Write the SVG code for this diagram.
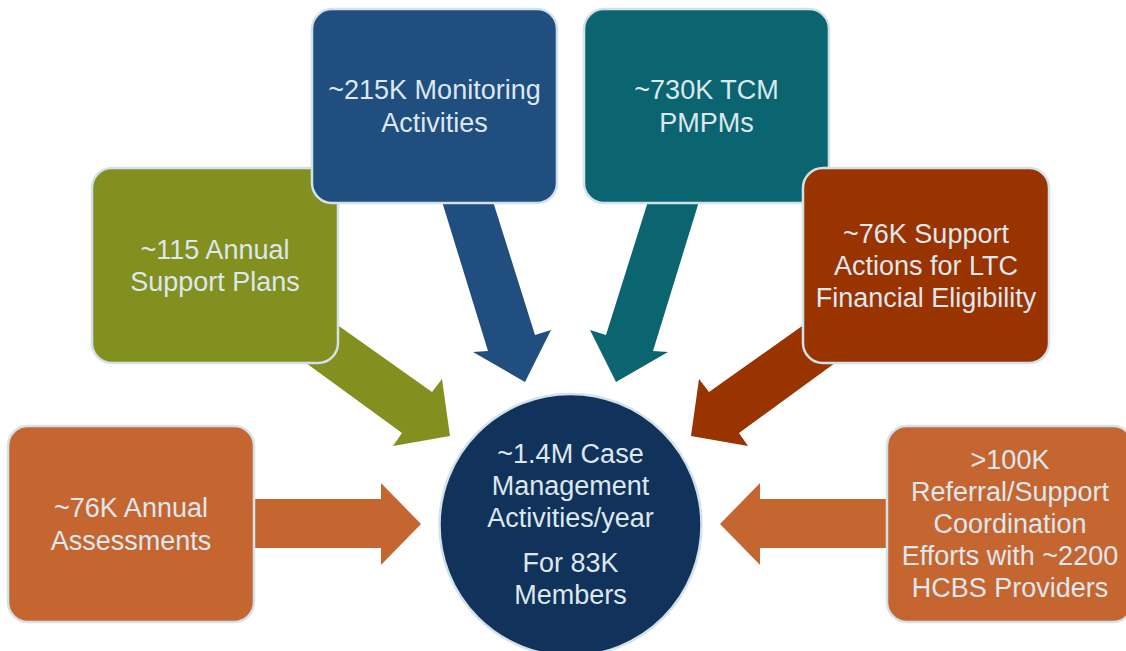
<svg xmlns="http://www.w3.org/2000/svg" width="1126" height="651" viewBox="0 0 1126 651">
  <style>
    .box { stroke: #d3e1ea; stroke-width: 2.5; }
    .lbl { font-family: "Liberation Sans", Arial, sans-serif; font-size: 27px; fill: #dde7ee; text-anchor: middle; }
    .orange { fill: #c56630; }
    .olive { fill: #838f1e; }
    .blue { fill: #1f4e7f; }
    .teal { fill: #0b6571; }
    .rust { fill: #993300; }
    .navy { fill: #11325a; }
  </style>
  <rect width="1126" height="651" fill="#ffffff"/>

  <!-- block arrows pointing at the hub -->
  <g id="connectors">
    <polygon class="orange" points="245,499 381,499 381,483 421,524 381,565 381,548 245,548"/>
    <polygon class="olive" points="298,297 432,392 442,379 450,436 393,446 402,433 269,336"/>
    <polygon class="blue" points="440,195 491,195 535,335 551,330 525,382 473,352 488,351"/>
    <polygon class="teal" points="701,195 650,195 606,335 590,330 616,382 668,352 653,351"/>
    <polygon class="rust" points="843,297 709,392 699,379 691,436 748,446 739,433 872,336"/>
    <polygon class="orange" points="896,499 760,499 760,483 720,524 760,565 760,548 896,548"/>
  </g>

  <g id="assessments">
    <rect class="box orange" x="8" y="426" width="246" height="196" rx="20"/>
    <text class="lbl" x="131" y="517">~76K Annual</text>
    <text class="lbl" x="131" y="550">Assessments</text>
  </g>

  <g id="support-plans">
    <rect class="box olive" x="92" y="168" width="246" height="195" rx="20"/>
    <text class="lbl" x="215" y="259">~115 Annual</text>
    <text class="lbl" x="215" y="291">Support Plans</text>
  </g>

  <g id="monitoring">
    <rect class="box blue" x="312" y="9" width="245" height="194" rx="20"/>
    <text class="lbl" x="434.5" y="99">~215K Monitoring</text>
    <text class="lbl" x="434.5" y="132">Activities</text>
  </g>

  <g id="tcm">
    <rect class="box teal" x="584" y="9" width="245" height="194" rx="20"/>
    <text class="lbl" x="706.5" y="99">~730K TCM</text>
    <text class="lbl" x="706.5" y="132">PMPMs</text>
  </g>

  <g id="ltc-eligibility">
    <rect class="box rust" x="803" y="168" width="246" height="195" rx="20"/>
    <text class="lbl" x="926" y="243">~76K Support</text>
    <text class="lbl" x="926" y="275">Actions for LTC</text>
    <text class="lbl" x="926" y="307">Financial Eligibility</text>
  </g>

  <g id="referrals">
    <rect class="box orange" x="887" y="426" width="246" height="196" rx="20"/>
    <text class="lbl" x="1010" y="469">&gt;100K</text>
    <text class="lbl" x="1010" y="501">Referral/Support</text>
    <text class="lbl" x="1010" y="533">Coordination</text>
    <text class="lbl" x="1010" y="565">Efforts with ~2200</text>
    <text class="lbl" x="1010" y="597">HCBS Providers</text>
  </g>

  <g id="hub">
    <circle class="box navy" cx="570.5" cy="525" r="131"/>
    <text class="lbl" x="570.5" y="463">~1.4M Case</text>
    <text class="lbl" x="570.5" y="495">Management</text>
    <text class="lbl" x="570.5" y="527">Activities/year</text>
    <text class="lbl" x="570.5" y="572">For 83K</text>
    <text class="lbl" x="570.5" y="604">Members</text>
  </g>
</svg>
